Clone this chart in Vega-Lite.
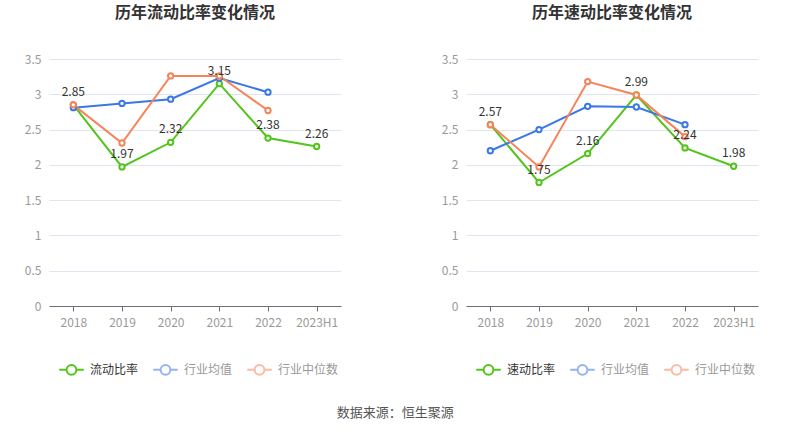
{
  "$schema": "https://vega.github.io/schema/vega-lite/v6.json",
  "background": "white",
  "padding": {"left": 24, "top": 5, "right": 10, "bottom": 5},
  "datasets": {
    "liudong": [
      {"year": "2018", "series": "流动比率", "value": 2.85},
      {"year": "2019", "series": "流动比率", "value": 1.97},
      {"year": "2020", "series": "流动比率", "value": 2.32},
      {"year": "2021", "series": "流动比率", "value": 3.15},
      {"year": "2022", "series": "流动比率", "value": 2.38},
      {"year": "2023H1", "series": "流动比率", "value": 2.26},
      {"year": "2018", "series": "行业均值", "value": 2.81},
      {"year": "2019", "series": "行业均值", "value": 2.87},
      {"year": "2020", "series": "行业均值", "value": 2.93},
      {"year": "2021", "series": "行业均值", "value": 3.23},
      {"year": "2022", "series": "行业均值", "value": 3.03},
      {"year": "2018", "series": "行业中位数", "value": 2.85},
      {"year": "2019", "series": "行业中位数", "value": 2.31},
      {"year": "2020", "series": "行业中位数", "value": 3.26},
      {"year": "2021", "series": "行业中位数", "value": 3.26},
      {"year": "2022", "series": "行业中位数", "value": 2.77}
    ],
    "sudong": [
      {"year": "2018", "series": "速动比率", "value": 2.57},
      {"year": "2019", "series": "速动比率", "value": 1.75},
      {"year": "2020", "series": "速动比率", "value": 2.16},
      {"year": "2021", "series": "速动比率", "value": 2.99},
      {"year": "2022", "series": "速动比率", "value": 2.24},
      {"year": "2023H1", "series": "速动比率", "value": 1.98},
      {"year": "2018", "series": "行业均值", "value": 2.2},
      {"year": "2019", "series": "行业均值", "value": 2.5},
      {"year": "2020", "series": "行业均值", "value": 2.83},
      {"year": "2021", "series": "行业均值", "value": 2.82},
      {"year": "2022", "series": "行业均值", "value": 2.57},
      {"year": "2018", "series": "行业中位数", "value": 2.57},
      {"year": "2019", "series": "行业中位数", "value": 1.97},
      {"year": "2020", "series": "行业中位数", "value": 3.18},
      {"year": "2021", "series": "行业中位数", "value": 2.99},
      {"year": "2022", "series": "行业中位数", "value": 2.4}
    ]
  },
  "title": {
    "text": "数据来源：恒生聚源",
    "orient": "bottom",
    "anchor": "middle",
    "fontSize": 13,
    "fontWeight": "normal",
    "color": "#555",
    "offset": 28,
    "dx": 4
  },
  "spacing": 100,
  "hconcat": [
    {
      "title": {"text": "历年流动比率变化情况"},
      "width": 292,
      "height": 247,
      "data": {"name": "liudong"},
      "encoding": {
        "x": {"field": "year", "type": "ordinal", "sort": null, "scale": {"type": "point", "padding": 0.5}},
        "y": {"field": "value", "type": "quantitative", "scale": {"domain": [0, 3.5]}},
        "color": {
          "field": "series",
          "type": "nominal",
          "sort": null,
          "scale": {"domain": ["流动比率", "行业均值", "行业中位数"], "range": ["#52c41a", "#3b78e7", "#f5845a"]},
          "legend": {
            "labelColor": {"expr": "datum.value == '流动比率' ? '#333333' : '#999999'"},
            "symbolOpacity": {"expr": "datum.value == '流动比率' ? 1 : 0.55"}
          }
        }
      },
      "layer": [
        {"mark": {"type": "line", "strokeWidth": 2}},
        {"mark": {"type": "point", "filled": false, "fill": "white", "strokeWidth": 2, "size": 28, "opacity": 1}},
        {
          "transform": [{"filter": "datum.series == '流动比率'"}],
          "mark": {"type": "text", "dy": -13, "fontSize": 12},
          "encoding": {
            "text": {"field": "value", "type": "quantitative", "format": ".2f"},
            "color": {"value": "#333333"}
          }
        }
      ]
    },
    {
      "title": {"text": "历年速动比率变化情况"},
      "width": 292,
      "height": 247,
      "data": {"name": "sudong"},
      "encoding": {
        "x": {"field": "year", "type": "ordinal", "sort": null, "scale": {"type": "point", "padding": 0.5}},
        "y": {"field": "value", "type": "quantitative", "scale": {"domain": [0, 3.5]}},
        "color": {
          "field": "series",
          "type": "nominal",
          "sort": null,
          "scale": {"domain": ["速动比率", "行业均值", "行业中位数"], "range": ["#52c41a", "#3b78e7", "#f5845a"]},
          "legend": {
            "labelColor": {"expr": "datum.value == '速动比率' ? '#333333' : '#999999'"},
            "symbolOpacity": {"expr": "datum.value == '速动比率' ? 1 : 0.55"}
          }
        }
      },
      "layer": [
        {"mark": {"type": "line", "strokeWidth": 2}},
        {"mark": {"type": "point", "filled": false, "fill": "white", "strokeWidth": 2, "size": 28, "opacity": 1}},
        {
          "transform": [{"filter": "datum.series == '速动比率'"}],
          "mark": {"type": "text", "dy": -13, "fontSize": 12},
          "encoding": {
            "text": {"field": "value", "type": "quantitative", "format": ".2f"},
            "color": {"value": "#333333"}
          }
        }
      ]
    }
  ],
  "resolve": {"scale": {"color": "independent"}, "legend": {"color": "independent"}},
  "config": {
    "font": "Noto Sans CJK SC",
    "view": {"stroke": null},
    "title": {"fontSize": 16, "fontWeight": "bold", "color": "#333333", "anchor": "middle", "offset": 32},
    "axisX": {
      "title": null,
      "labelAngle": 0,
      "labelColor": "#999999",
      "labelFontSize": 12,
      "labelPadding": 6,
      "domainColor": "#6e7079",
      "tickColor": "#6e7079",
      "tickSize": 5,
      "grid": false
    },
    "axisY": {
      "title": null,
      "values": [0, 0.5, 1, 1.5, 2, 2.5, 3, 3.5],
      "format": "~f",
      "labelColor": "#999999",
      "labelFontSize": 12,
      "labelPadding": 8,
      "domain": false,
      "ticks": false,
      "gridColor": "#e0e6f1",
      "gridWidth": 1
    },
    "legend": {
      "orient": "none",
      "legendX": 9,
      "legendY": 297,
      "direction": "horizontal",
      "title": null,
      "labelFontSize": 12,
      "labelOffset": 5,
      "columnPadding": 10,
      "symbolType": "M-1,0L-0.4,0M0.4,0L1,0M0.4,0A0.4,0.4 0 1,1 -0.4,0A0.4,0.4 0 1,1 0.4,0",
      "symbolSize": 600,
      "symbolStrokeWidth": 2,
      "symbolFillColor": "transparent"
    }
  }
}
